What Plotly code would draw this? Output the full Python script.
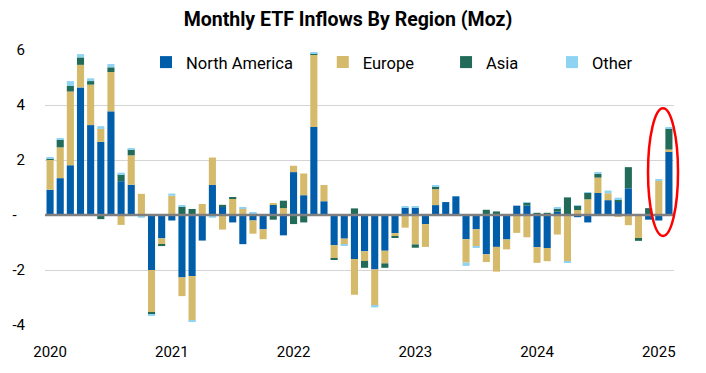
import plotly.graph_objects as go

months = [f"{y}-{m:02d}" for y in range(2020, 2026) for m in range(1, 13)][:62]
year_ticks = ["2020", "2021", "2022", "2023", "2024", "2025"]
y_ticks = [-4, -2, 0, 2, 4, 6]
y_tick_text = ["-4", "-2", "-\u2007", "2", "4", "6"]

north_america = [
    0.92, 1.34, 1.81, 4.64, 3.27, 2.66, 3.77, 1.23, 1.10, 0.00, -2.00, -0.85,
    -0.20, -2.27, -2.22, -0.93, 1.09, 0.29, -0.27, -1.06, -0.20, -0.52, 0.37, -0.74,
    1.56, 0.72, 3.20, 0.50, -1.10, -0.86, -1.60, -1.32, -1.98, -1.30, -0.66, 0.27,
    0.27, -0.33, 0.36, 0.47, 0.68, -0.88, -0.52, -1.43, -1.16, -0.89, 0.34, 0.35,
    -1.17, -1.20, 0.12, 0.00, -0.08, -0.27, 0.80, 0.54, 0.50, 0.97, 0.00, -0.17,
    -0.20, 2.31]
europe = [
    1.11, 1.12, 2.68, 0.82, 1.47, 0.47, 1.43, -0.36, 1.07, 0.77, -1.53, -0.22,
    0.70, -0.68, -1.63, 0.40, 1.00, -0.53, 0.60, 0.25, -0.48, -0.36, 0.04, 0.25,
    0.23, 0.79, 2.63, 0.59, -0.48, -0.23, -1.30, -0.35, -1.32, -0.46, -0.12, -0.46,
    -1.07, -0.83, 0.58, 0.00, -0.03, -0.85, -0.62, -0.28, -0.90, -0.36, -0.65, -0.81,
    -0.57, -0.48, -0.71, -1.69, 0.18, 0.57, 0.56, 0.25, -0.04, -0.37, -0.87, 0.00,
    1.24, 0.07]
asia = [
    0.02, 0.28, 0.20, 0.27, 0.13, -0.15, 0.17, 0.25, 0.22, 0.00, -0.07, -0.06,
    0.00, 0.31, 0.22, 0.00, 0.00, 0.08, 0.05, 0.00, 0.06, 0.00, -0.17, 0.27,
    -0.33, -0.27, 0.06, 0.00, -0.04, 0.00, 0.24, -0.25, 0.00, -0.16, -0.05, 0.00,
    -0.12, 0.00, 0.11, 0.00, 0.00, 0.00, 0.00, 0.19, 0.13, 0.00, 0.00, 0.10,
    0.08, 0.08, 0.12, 0.64, 0.16, 0.23, 0.14, 0.00, 0.07, 0.77, -0.07, 0.25,
    0.00, 0.77]
other = [
    0.03, 0.03, 0.18, 0.12, 0.10, 0.10, 0.12, 0.06, 0.02, -0.10, -0.06, 0.00,
    0.08, 0.02, -0.03, 0.00, -0.10, 0.00, 0.00, 0.03, 0.03, 0.03, 0.00, 0.00,
    0.00, 0.00, 0.04, 0.00, 0.00, -0.02, 0.00, 0.00, -0.06, 0.00, 0.00, 0.03,
    0.05, 0.00, 0.02, 0.00, 0.00, -0.12, -0.06, 0.00, 0.00, 0.03, 0.00, 0.02,
    0.00, 0.00, 0.02, -0.05, 0.02, 0.02, 0.03, 0.10, 0.06, 0.00, 0.00, 0.00,
    0.04, 0.05]

series = [
    ("North America", north_america, "#005DAA", "legend", 0.1606),
    ("Europe", europe, "#D6BA6B", "legend2", 0.4416),
    ("Asia", asia, "#226B58", "legend3", 0.6376),
    ("Other", other, "#8ED4F2", "legend4", 0.806),
]

x_idx = list(range(len(months)))
fig = go.Figure()
for name, vals, color, leg, _ in series:
    fig.add_trace(go.Bar(x=x_idx, y=vals, name=name, marker_color=color,
                         marker_line_width=0, legend=leg))

legend_common = dict(orientation="h", yanchor="middle", y=0.955, xanchor="left",
                     font=dict(family="Roboto", size=16.5, color="#000000"),
                     bgcolor="rgba(0,0,0,0)", borderwidth=0)
layout_legends = {}
for name, vals, color, leg, lx in series:
    layout_legends[leg] = dict(x=lx, **legend_common)

fig.update_layout(
    width=706, height=373,
    margin=dict(l=45, r=32, t=49.5, b=47.7),
    paper_bgcolor="white", plot_bgcolor="white",
    barmode="relative", bargap=0.3,
    title=dict(text="<b>Monthly ETF Inflows By Region (Moz)</b>", x=348 / 706, xref="container",
               xanchor="center", y=0.948, yref="container", yanchor="middle",
               font=dict(family="Roboto", size=19.5, color="#000000")),
    font=dict(family="Roboto", color="#000000"),
    showlegend=True,
    **layout_legends,
)
fig.update_xaxes(range=[-0.5, 61.5], tickvals=[0, 12, 24, 36, 48, 60], ticktext=year_ticks,
                 showgrid=False, zeroline=False, showline=False,
                 ticks="outside", ticklen=13, tickcolor="rgba(0,0,0,0)",
                 tickfont=dict(family="Roboto", size=15, color="#000000"))
fig.update_yaxes(range=[-4, 6], tickvals=y_ticks, ticktext=y_tick_text,
                 showgrid=True, gridcolor="#D4D4D4", gridwidth=1.3,
                 zeroline=False, showline=False,
                 ticks="outside", ticklen=16, tickcolor="rgba(0,0,0,0)",
                 tickfont=dict(family="Roboto", size=15, color="#000000"))

fig.add_shape(type="line", xref="paper", x0=0, x1=1, yref="y", y0=0, y1=0,
              line=dict(color="#808080", width=2.5), layer="above")
fig.add_shape(type="circle", xref="paper", yref="paper",
              x0=0.9587, x1=1.0064, y0=0.324, y1=0.788,
              line=dict(color="#FF0000", width=2.5), layer="above")

fig.write_html("out.html", config={"displayModeBar": False},
               post_script="document.body.style.margin='0px';")
